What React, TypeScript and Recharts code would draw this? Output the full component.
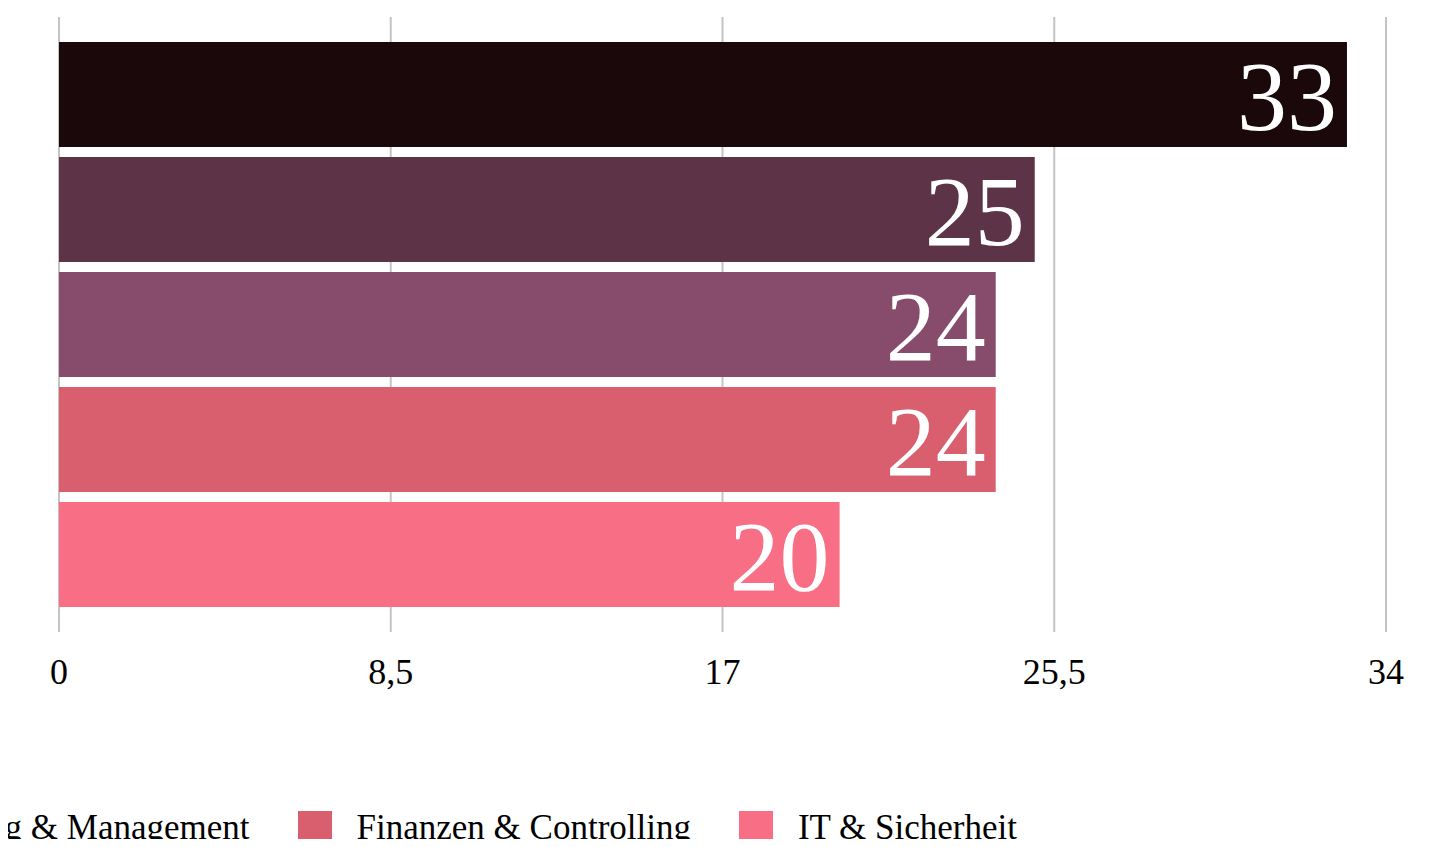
import React from "react";
import { Bar, BarChart, CartesianGrid, LabelList, Legend, XAxis, YAxis } from "recharts";

const FONT = '"Liberation Serif", "Times New Roman", serif';

const category = "Bereiche";
const seriesNames = [
  "Vertrieb & Marketing",
  "Personal & Recht",
  "Beratung & Management",
  "Finanzen & Controlling",
  "IT & Sicherheit",
];
const seriesValues = [33, 25, 24, 24, 20];
const seriesColors = ["#1a080b", "#5c3347", "#874b6c", "#d95f6f", "#f76e85"];
const xTicks = [0, 8.5, 17, 25.5, 34];

const data = [
  seriesNames.reduce<Record<string, string | number>>(
    (row, name, i) => {
      row[`s${i}`] = seriesValues[i];
      return row;
    },
    { name: category }
  ),
];

const WIDTH = 1428;
const HEIGHT = 839;

function LegendContent({ payload }: { payload?: { value: string; color: string }[] }) {
  if (!payload) return null;
  // keep legend in series order (recharts reverses it for vertical layouts)
  const items = [...payload].sort(
    (a, b) => seriesNames.indexOf(a.value) - seriesNames.indexOf(b.value)
  );
  return (
    <div style={{ display: "flex", alignItems: "center", whiteSpace: "nowrap" }}>
      {items.map((p, i) => (
        <div
          key={p.value}
          style={{ display: "flex", alignItems: "center", marginLeft: i === 0 ? 0 : 48 }}
        >
          <span style={{ width: 34, height: 34, background: p.color, display: "inline-block" }} />
          <span
            style={{ marginLeft: 25, fontFamily: FONT, fontSize: 35, color: "#000", lineHeight: "34px" }}
          >
            {p.value}
          </span>
        </div>
      ))}
    </div>
  );
}

export default function App() {
  return (
    <div style={{ height: 831 }}>
      <BarChart
        width={WIDTH}
        height={HEIGHT}
        data={data}
        layout="vertical"
        margin={{ top: 9, right: 50, bottom: 155, left: 51 }}
        barCategoryGap={25}
        barGap={10}
      >
        <CartesianGrid horizontal={false} stroke="#c4c4c4" strokeWidth={2} />
        <XAxis
          type="number"
          domain={[0, 34]}
          ticks={xTicks}
          interval={0}
          height={60}
          axisLine={false}
          tickLine={false}
          tickSize={0}
          tickMargin={26}
          tickFormatter={(v: number) => String(v).replace(".", ",")}
          tick={{ fill: "#000", fontSize: 36, fontFamily: FONT }}
        />
        <YAxis
          type="category"
          dataKey="name"
          width={0}
          tick={false}
          tickLine={false}
          axisLine={{ stroke: "#000", strokeWidth: 2 }}
        />
        <Legend
          layout="horizontal"
          verticalAlign="middle"
          align="center"
          content={<LegendContent />}
          wrapperStyle={{ top: 803, left: "auto", right: WIDTH - 1009, width: "auto", height: 34 }}
        />
        {seriesNames.map((name, i) => (
          <Bar key={name} dataKey={`s${i}`} name={name} fill={seriesColors[i]} isAnimationActive={false}>
            <LabelList
              dataKey={`s${i}`}
              position="insideRight"
              offset={10}
              fill="#fff"
              style={{ fontSize: 100, fontFamily: FONT }}
            />
          </Bar>
        ))}
      </BarChart>
    </div>
  );
}
